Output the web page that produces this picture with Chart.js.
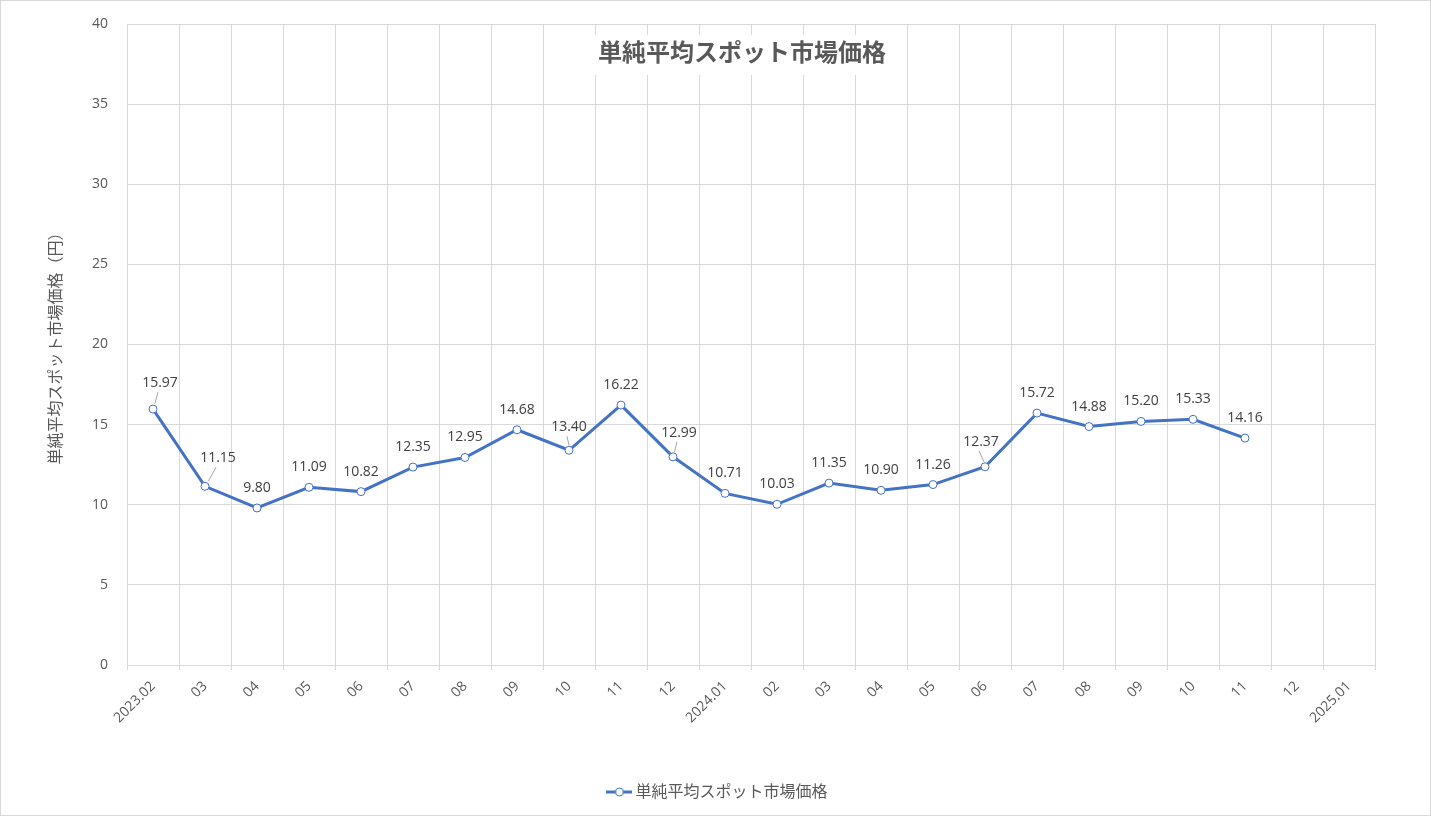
<!DOCTYPE html>
<html>
<head>
<meta charset="utf-8">
<script src="https://cdn.jsdelivr.net/npm/chart.js@4/dist/chart.umd.min.js"></script>
<style>
  html, body { margin: 0; padding: 0; background: #fff; }
  #wrap { width: 1431px; height: 816px; }
</style>
</head>
<body>
<div id="wrap"><canvas id="myChart" width="1431" height="816"></canvas></div>
<script>
const chartTitle = '単純平均スポット市場価格';
const yTitle = '単純平均スポット市場価格（円）';
const months = ['2023.02', '03', '04', '05', '06', '07', '08', '09', '10', '11', '12',
  '2024.01', '02', '03', '04', '05', '06', '07', '08', '09', '10', '11', '12', '2025.01'];
const prices = [15.97, 11.15, 9.80, 11.09, 10.82, 12.35, 12.95, 14.68, 13.40, 16.22, 12.99,
  10.71, 10.03, 11.35, 10.90, 11.26, 12.37, 15.72, 14.88, 15.20, 15.33, 14.16, null, null];

const FONT = '"Segoe UI", "Open Sans", "Noto Sans CJK JP", sans-serif';
const BLUE = '#4472C4';
const GREY_TEXT = '#595959';
const GRID = '#d9d9d9';

// little legend marker: line with an open circle
const marker = document.createElement('canvas');
marker.width = 26; marker.height = 12;
(() => {
  const c = marker.getContext('2d');
  c.strokeStyle = BLUE; c.lineWidth = 3;
  c.beginPath(); c.moveTo(0, 6); c.lineTo(26, 6); c.stroke();
  c.fillStyle = '#fff'; c.lineWidth = 1;
  c.beginPath(); c.arc(13, 6, 4, 0, Math.PI * 2); c.fill(); c.stroke();
})();

// label offsets (px) for the labels that sit away from their point, drawn with a leader line
const labelShift = { 0: [7, -6], 1: [13, -8], 8: [0, -3], 10: [6, -4], 16: [-4, -5] };

const valueLabels = {
  id: 'valueLabels',
  afterDatasetsDraw(chart) {
    const ctx = chart.ctx;
    const meta = chart.getDatasetMeta(0);
    ctx.save();
    ctx.font = '14px ' + FONT;
    ctx.textAlign = 'center';
    ctx.textBaseline = 'middle';
    meta.data.forEach((pt, i) => {
      const v = prices[i];
      if (v == null) return;
      const s = labelShift[i] || [0, 0];
      const tx = pt.x + s[0], ty = pt.y - 20 + s[1];
      if (labelShift[i]) {
        ctx.strokeStyle = '#a6a6a6'; ctx.lineWidth = 1;
        ctx.beginPath();
        ctx.moveTo(pt.x + (tx - pt.x) * 0.25, pt.y - 5);
        ctx.lineTo(tx - 2, ty + 9);
        ctx.stroke();
      }
      ctx.fillStyle = '#404040';
      ctx.fillText(v.toFixed(2), tx, ty);
    });
    ctx.restore();
  }
};

const titleBox = {
  id: 'titleBox',
  afterLayout(chart) {
    // centre the legend on the whole canvas, not on the padded area
    chart.legend.left = 8;
    chart.legend.right = chart.width;
  },
  afterDraw(chart) {
    const ctx = chart.ctx;
    ctx.save();
    ctx.fillStyle = '#fff';
    ctx.fillRect(572, 35, 330, 40);
    ctx.font = 'bold 24px ' + FONT;
    ctx.fillStyle = GREY_TEXT;
    ctx.textAlign = 'center';
    ctx.textBaseline = 'middle';
    ctx.fillText(chartTitle, 742, 54);
    ctx.strokeStyle = GRID; ctx.lineWidth = 1;
    ctx.strokeRect(0.5, 0.5, chart.width - 1, chart.height - 1);
    ctx.restore();
  }
};

new Chart(document.getElementById('myChart'), {
  type: 'line',
  data: {
    labels: months,
    datasets: [{
      label: chartTitle,
      data: prices,
      borderColor: BLUE,
      borderWidth: 3,
      backgroundColor: '#fff',
      pointBackgroundColor: '#fff',
      pointBorderColor: BLUE,
      pointBorderWidth: 1,
      pointRadius: 4,
      tension: 0,
      spanGaps: false,
      pointStyle: 'circle'
    }]
  },
  options: {
    responsive: false,
    animation: false,
    layout: { padding: { left: 0, right: 56, top: 24, bottom: 6 } },
    scales: {
      x: {
        offset: true,
        grid: { color: GRID, offset: true, drawTicks: true, tickLength: 5 },
        border: { color: GRID },
        ticks: {
          color: GREY_TEXT,
          font: { family: FONT, size: 14 },
          maxRotation: 45, minRotation: 45,
          padding: 8,
          autoSkip: false
        },
        afterFit(scale) { scale.height = 109; }
      },
      y: {
        min: 0, max: 40,
        grid: { color: GRID, drawTicks: false },
        border: { display: false },
        ticks: {
          stepSize: 5,
          color: GREY_TEXT,
          font: { family: FONT, size: 14 },
          padding: 19
        },
        title: {
          display: true,
          text: yTitle,
          color: GREY_TEXT,
          font: { family: FONT, size: 16 },
          padding: { top: 47, bottom: 0 }
        },
        afterFit(scale) {
          scale.width = 127;
          scale.paddingTop = 0;
          scale.paddingBottom = 0;
        }
      }
    },
    plugins: {
      title: { display: false },
      tooltip: { enabled: false },
      legend: {
        position: 'bottom',
        labels: {
          color: GREY_TEXT,
          font: { family: FONT, size: 16 },
          usePointStyle: true,
          generateLabels(chart) {
            return [{
              text: chartTitle,
              fontColor: GREY_TEXT,
              pointStyle: marker,
              strokeStyle: BLUE,
              fillStyle: '#fff',
              lineWidth: 0,
              datasetIndex: 0
            }];
          }
        }
      }
    }
  },
  plugins: [valueLabels, titleBox]
});
</script>
</body>
</html>
